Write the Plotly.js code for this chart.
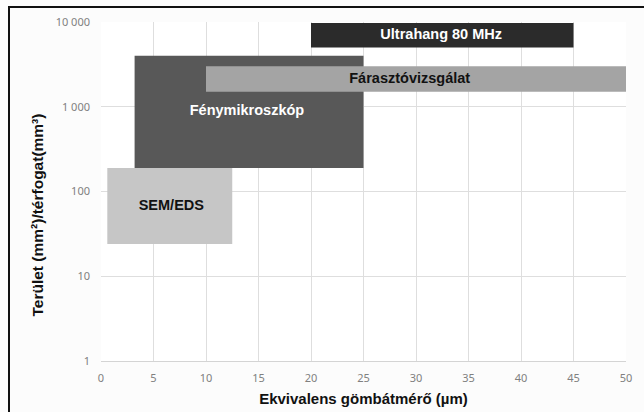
<!DOCTYPE html>
<html><head><meta charset="utf-8">
<script src="https://cdn.plot.ly/plotly-3.0.1.min.js"></script>
<style>
html,body{margin:0;padding:0;overflow:hidden;background:#fff;}
#wrap{position:relative;width:644px;height:412px;}
#chart{position:absolute;left:0;top:0;width:644px;height:412px;}
#frame{position:absolute;left:8px;top:6px;width:700px;height:500px;border-left:2px solid #111;border-top:2px solid #111;pointer-events:none;}
</style></head>
<body><div id="wrap"><div id="chart"></div><div id="frame"></div></div>
<script>
// Methods: diameter range (µm) and area/volume range (mm²/mm³)
const methods = ["Fénymikroszkóp", "Fárasztóvizsgálat", "SEM/EDS", "Ultrahang 80 MHz"];
const xMin = [3.2, 10, 0.6, 20];
const xMax = [25, 50, 12.5, 45];
const yMin = [190, 1500, 24, 5000];
const yMax = [4000, 3000, 190, 9700];
const fillColors = ["#585858", "#a4a4a4", "#c6c6c6", "#2b2b2b"];
const labelColors = ["#ffffff", "#111111", "#111111", "#ffffff"];
const labelX = [13.9, 29.4, 6.7, 32.4];

const yTickVals = [1, 10, 100, 1000, 10000];
const yTickText = ["1", "10", "100", "1 000", "10 000"];
const xTickVals = [0, 5, 10, 15, 20, 25, 30, 35, 40, 45, 50];

const traces = [];
methods.forEach((m, i) => {
  traces.push({
    type: "scatter", mode: "lines", fill: "toself",
    x: [xMin[i], xMax[i], xMax[i], xMin[i], xMin[i]],
    y: [yMin[i], yMin[i], yMax[i], yMax[i], yMin[i]],
    fillcolor: fillColors[i], line: {width: 0, color: fillColors[i]},
    hoverinfo: "skip", showlegend: false
  });
});
methods.forEach((m, i) => {
  traces.push({
    type: "scatter", mode: "text",
    x: [labelX[i]], y: [Math.sqrt(yMin[i] * yMax[i])],
    text: [m], textposition: "middle center",
    textfont: {family: "Liberation Sans, Arial, sans-serif", size: 14.5, color: labelColors[i], weight: "bold"},
    hoverinfo: "skip", showlegend: false
  });
});

const layout = {
  width: 644, height: 412,
  margin: {l: 101, r: 18, t: 22, b: 51, pad: 0},
  paper_bgcolor: "#fcfcfc", plot_bgcolor: "#ffffff",
  showlegend: false,
  xaxis: {
    range: [0, 50], tickvals: xTickVals, ticks: "",
    showgrid: true, gridcolor: "#dedede", gridwidth: 1,
    zeroline: false, showline: true, linecolor: "#d4d4d4", linewidth: 1,
    tickfont: {family: "Noto Sans, sans-serif", size: 11, color: "#808080"},
    ticklabelstandoff: 7,
    title: {text: "<b>Ekvivalens gömbátmérő (µm)</b>", font: {family: "Liberation Sans, Arial, sans-serif", size: 15, color: "#111"}, standoff: 9}
  },
  yaxis: {
    type: "log", range: [0, 4], tickvals: yTickVals, ticktext: yTickText, ticks: "",
    showgrid: true, gridcolor: "#dedede", gridwidth: 1,
    zeroline: false, showline: false,
    tickfont: {family: "Noto Sans, sans-serif", size: 11, color: "#808080"},
    ticklabelstandoff: 10
  },
  annotations: [{
    xref: "paper", yref: "paper", x: 0, y: 0.5, xshift: -64, yshift: -24,
    xanchor: "center", yanchor: "middle", textangle: -90, showarrow: false,
    text: "<b>Terület (mm²)/térfogat(mm³)</b>",
    font: {family: "Liberation Sans, Arial, sans-serif", size: 15.5, color: "#111"}
  }]
};

Plotly.newPlot("chart", traces, layout, {staticPlot: true, displayModeBar: false});
</script></body></html>
